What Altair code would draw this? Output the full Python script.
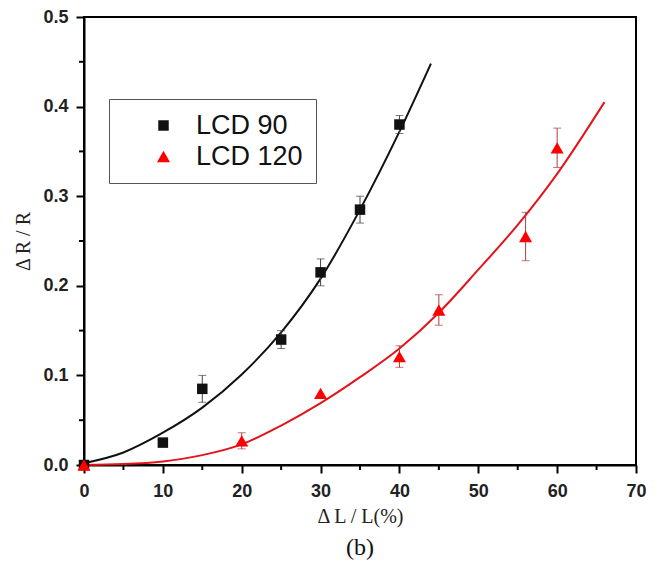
import altair as alt
import pandas as pd

# ---- data ----
series = ["LCD 90", "LCD 120"]

x90 = [0, 10, 15, 25, 30, 35, 40]
y90 = [0.0, 0.025, 0.085, 0.140, 0.215, 0.285, 0.380]
e90 = [0.0, 0.0, 0.015, 0.010, 0.015, 0.015, 0.010]

x120 = [0, 20, 30, 40, 45, 56, 60]
y120 = [0.0, 0.027, 0.080, 0.121, 0.173, 0.255, 0.354]
e120 = [0.0, 0.009, 0.0, 0.012, 0.017, 0.027, 0.022]

fit90_x = [0, 5, 10, 15, 20, 25, 30, 35, 40, 44]
fit90_y = [0.002, 0.014, 0.036, 0.064, 0.101, 0.148, 0.208, 0.285, 0.372, 0.448]

fit120_x = [0, 5, 10, 15, 20, 25, 30, 35, 40, 45, 50, 55, 60, 66]
fit120_y = [0.0, 0.001, 0.004, 0.011, 0.023, 0.044, 0.069, 0.098, 0.130, 0.170, 0.218, 0.268, 0.325, 0.405]

x_major = [0, 10, 20, 30, 40, 50, 60, 70]
x_minor = [5, 15, 25, 35, 45, 55, 65]
y_major = [0.0, 0.1, 0.2, 0.3, 0.4, 0.5]
y_minor = [0.05, 0.15, 0.25, 0.35, 0.45]

x_title = "Δ L / L(%)"
y_title = "Δ R / R"
caption = "(b)"

W, H = 552, 448
LABEL_FONT = "Liberation Sans"
TITLE_FONT = "Liberation Serif"


def xenc(field):
    return alt.X(
        f"{field}:Q",
        scale=alt.Scale(domain=[0, 70], nice=False, zero=False),
        axis=alt.Axis(values=x_major, tickSize=8, labelPadding=9, titlePadding=6),
        title=x_title,
    )


def yenc(field):
    return alt.Y(
        f"{field}:Q",
        scale=alt.Scale(domain=[0, 0.5], nice=False, zero=False),
        axis=alt.Axis(values=y_major, format=".1f", tickSize=8, labelPadding=8, titlePadding=9),
        title=y_title,
    )


def series_layers(xs, ys, es, fx, fy, line_color, err_color):
    fit = pd.DataFrame({"x": fx, "y": fy})
    err = pd.DataFrame({
        "x": [x for x, e in zip(xs, es) if e > 0],
        "lo": [y - e for y, e in zip(ys, es) if e > 0],
        "hi": [y + e for y, e in zip(ys, es) if e > 0],
    })
    line = alt.Chart(fit).mark_line(color=line_color, strokeWidth=2, interpolate="monotone").encode(
        x=xenc("x"), y=yenc("y"))
    rule = alt.Chart(err).mark_rule(color=err_color, strokeWidth=1).encode(
        x=xenc("x"), y=yenc("lo"), y2="hi:Q")
    cap_lo = alt.Chart(err).mark_tick(color=err_color, orient="horizontal", size=8, thickness=1).encode(
        x=xenc("x"), y=yenc("lo"))
    cap_hi = alt.Chart(err).mark_tick(color=err_color, orient="horizontal", size=8, thickness=1).encode(
        x=xenc("x"), y=yenc("hi"))
    return [line, rule, cap_lo, cap_hi]


layers90 = series_layers(x90, y90, e90, fit90_x, fit90_y, "#111111", "#444444")
layers120 = series_layers(x120, y120, e120, fit120_x, fit120_y, "#e3141b", "#b23a3a")

# minor ticks (outside the frame), positioned through the scales
minor_x = alt.Chart(pd.DataFrame({"x": x_minor})).mark_rule(color="black", strokeWidth=2).encode(
    x=xenc("x"), y=alt.value(H), y2=alt.value(H + 5))
minor_y = alt.Chart(pd.DataFrame({"y": y_minor})).mark_rule(color="black", strokeWidth=2).encode(
    y=yenc("y"), x=alt.value(0), x2=alt.value(-5))

pts = pd.DataFrame({
    "series": [series[0]] * len(x90) + [series[1]] * len(x120),
    "x": x90 + x120,
    "y": y90 + y120,
})

points = alt.Chart(pts).mark_point(filled=True, opacity=1, strokeWidth=0).encode(
    x=xenc("x"),
    y=yenc("y"),
    color=alt.Color(
        "series:N",
        scale=alt.Scale(domain=series, range=["#111111", "#ff0000"]),
        legend=alt.Legend(
            title=None,
            orient="none",
            legendX=25,
            legendY=82,
            padding=13,
            strokeColor="#555555",
            fillColor="white",
            labelFont=LABEL_FONT,
            labelFontSize=27,
            labelColor="#111111",
            symbolOffset=28,
            labelOffset=19,
            rowPadding=3,
            symbolSize=130,
            symbolStrokeWidth=0,
        ),
    ),
    shape=alt.Shape(
        "series:N",
        scale=alt.Scale(domain=series, range=["square", "triangle-up"]),
    ),
    size=alt.Size(
        "series:N",
        scale=alt.Scale(domain=series, range=[110, 170]),
        legend=None,
    ),
)

chart = alt.layer(*layers90, *layers120, minor_x, minor_y, points).properties(
    width=W,
    height=H,
    autosize=alt.AutoSizeParams(type="none"),
    padding={"left": 76, "top": 9, "right": 12, "bottom": 95},
    background="white",
    title=alt.TitleParams(
        caption,
        orient="bottom",
        anchor="middle",
        font=TITLE_FONT,
        fontSize=24,
        fontWeight="normal",
        color="#111111",
        offset=10,
    ),
).configure_view(
    stroke="black",
    strokeWidth=2,
).configure_axis(
    domainColor="black",
    domainWidth=2,
    tickColor="black",
    tickWidth=2,
    grid=False,
    labelFont=LABEL_FONT,
    labelFontSize=18,
    labelFontWeight="bold",
    labelColor="#222222",
    titleFont=TITLE_FONT,
    titleFontSize=20,
    titleFontWeight="normal",
    titleColor="#222222",
    labelFlush=False,
    labelOverlap=False,
)

chart.save("out.html", embed_options={"renderer": "svg", "actions": False})
